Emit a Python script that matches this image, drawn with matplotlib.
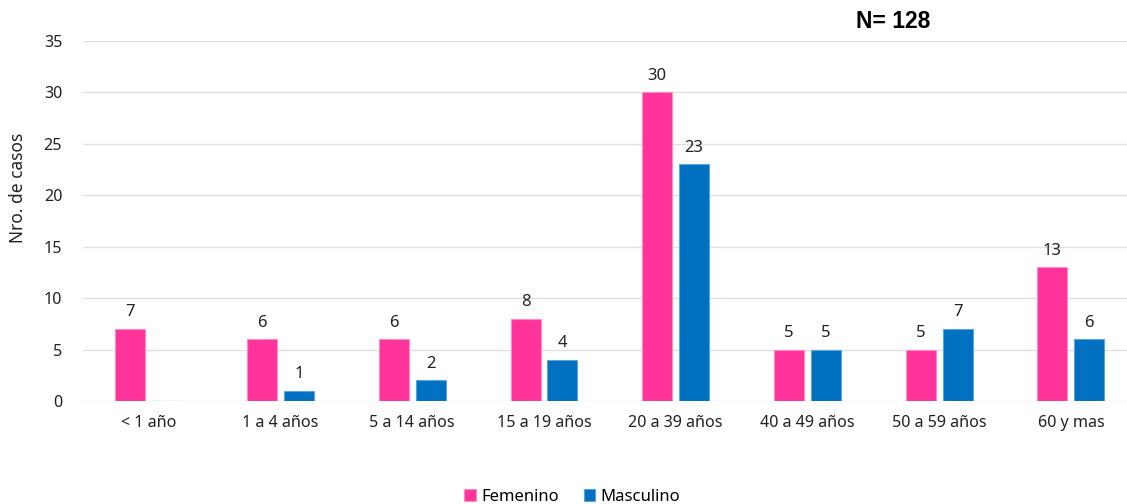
import numpy as np
import matplotlib.pyplot as plt

plt.rcParams['font.family'] = ['Noto Sans', 'DejaVu Sans']

grupos = ['< 1 año', '1 a 4 años', '5 a 14 años', '15 a 19 años',
          '20 a 39 años', '40 a 49 años', '50 a 59 años', '60 y mas']
femenino = [7, 6, 6, 8, 30, 5, 5, 13]
masculino = [0, 1, 2, 4, 23, 5, 7, 6]

rosa = '#FF3399'
azul = '#0070C0'

fig = plt.figure(figsize=(11.27, 5.04), dpi=100)
ax = fig.add_axes([83/1127, 103/504, 1044/1127, 360/504])

x = np.arange(len(grupos))
w = 0.228
off = 0.14
b1 = ax.bar(x - off, femenino, w, color=rosa, edgecolor='#ff8cc6', linewidth=0.8,
            label='Femenino', zorder=3)
b2 = ax.bar(x + off, masculino, w, color=azul, edgecolor='#5aa6dc', linewidth=0.8,
            label='Masculino', zorder=3)

# etiquetas de valor
for barras, vals in [(b1, femenino), (b2, masculino)]:
    for rect, v in zip(barras, vals):
        if v == 0:
            continue
        ax.text(rect.get_x() + rect.get_width()/2, v + 0.85, str(v), ha='center',
                va='bottom', fontsize=12, color='#222222')

ax.set_xlim(-0.5, 7.426)
ax.set_ylim(0, 35)
ax.set_yticks(range(0, 36, 5))
ax.set_xticks(x)
ax.set_xticklabels(grupos)
ax.tick_params(axis='both', length=0, labelsize=11.6, colors='#222222')
ax.tick_params(axis='y', pad=15)
ax.tick_params(axis='x', pad=10)
ax.grid(axis='y', color='#e0e0e0', linewidth=1, zorder=0)
for s in ax.spines.values():
    s.set_visible(False)

ax.set_ylabel('Nro. de casos', fontsize=12.5, color='#222222')
ax.yaxis.set_label_coords(-0.0536, 0.592)

fig.text(893/1127, 1 - 21/504, 'N= 128', ha='center', va='center',
         fontsize=16.5, fontweight='bold', family='Liberation Sans')

fig.legend(loc='center', bbox_to_anchor=(572/1127, 1 - 497/504), ncol=2,
           frameon=False, fontsize=12, handlelength=0.7, handleheight=0.7,
           handletextpad=0.3, columnspacing=1.5)

fig.savefig('out.png', dpi=100)
